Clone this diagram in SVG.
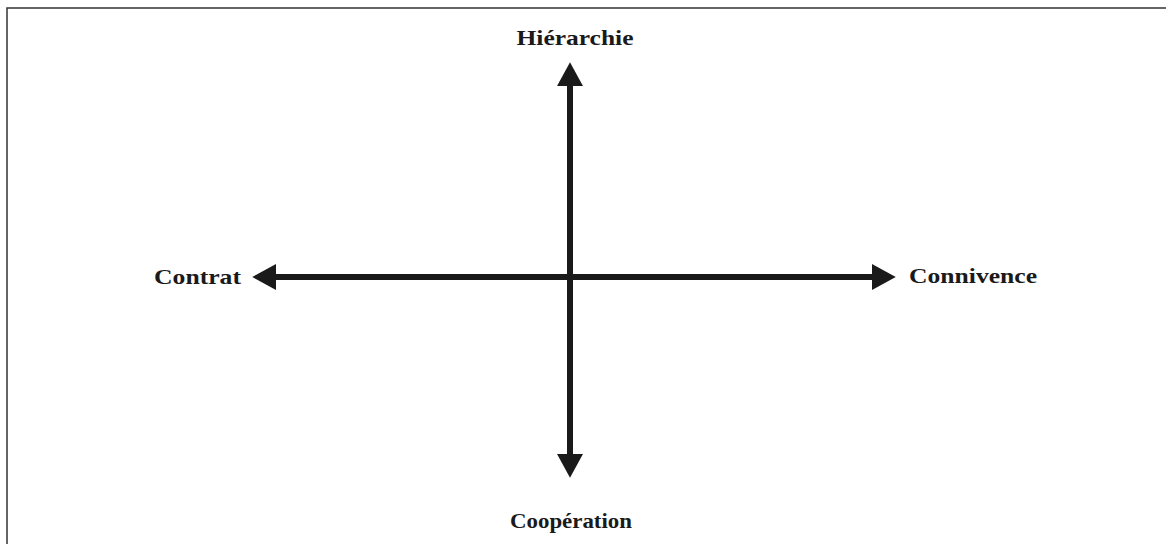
<svg xmlns="http://www.w3.org/2000/svg" width="1166" height="544" viewBox="0 0 1166 544">
<style>
.lbl{font-family:"Liberation Serif","Times New Roman",serif;font-weight:bold;font-size:22px;fill:#1a1a1a}
.axis{stroke:#1a1a1a;stroke-width:6;fill:none}
</style>
<defs>
<marker id="ah" markerUnits="userSpaceOnUse" markerWidth="24" markerHeight="26" viewBox="0 0 22 24" refX="1" refY="12" orient="auto-start-reverse">
<path d="M0,0 L22,12 L0,24 Z" fill="#1a1a1a"/>
</marker>
</defs>
<rect width="1166" height="544" fill="#fff"/>
<path d="M7,544 V8 H1166" fill="none" stroke="#333" stroke-width="1.5"/>
<g id="connectors">
<path class="axis" d="M570,85 V455" marker-start="url(#ah)" marker-end="url(#ah)"/>
<path class="axis" d="M275,277 H873" marker-start="url(#ah)" marker-end="url(#ah)"/>
</g>
<g id="hierarchie"><text class="lbl" x="575" y="45" text-anchor="middle" textLength="117" lengthAdjust="spacingAndGlyphs">Hiérarchie</text></g>
<g id="cooperation"><text class="lbl" x="571" y="528" text-anchor="middle" textLength="122" lengthAdjust="spacingAndGlyphs">Coopération</text></g>
<g id="contrat"><text class="lbl" x="154" y="284" textLength="87" lengthAdjust="spacingAndGlyphs">Contrat</text></g>
<g id="connivence"><text class="lbl" x="909" y="283" textLength="128" lengthAdjust="spacingAndGlyphs">Connivence</text></g>
</svg>
